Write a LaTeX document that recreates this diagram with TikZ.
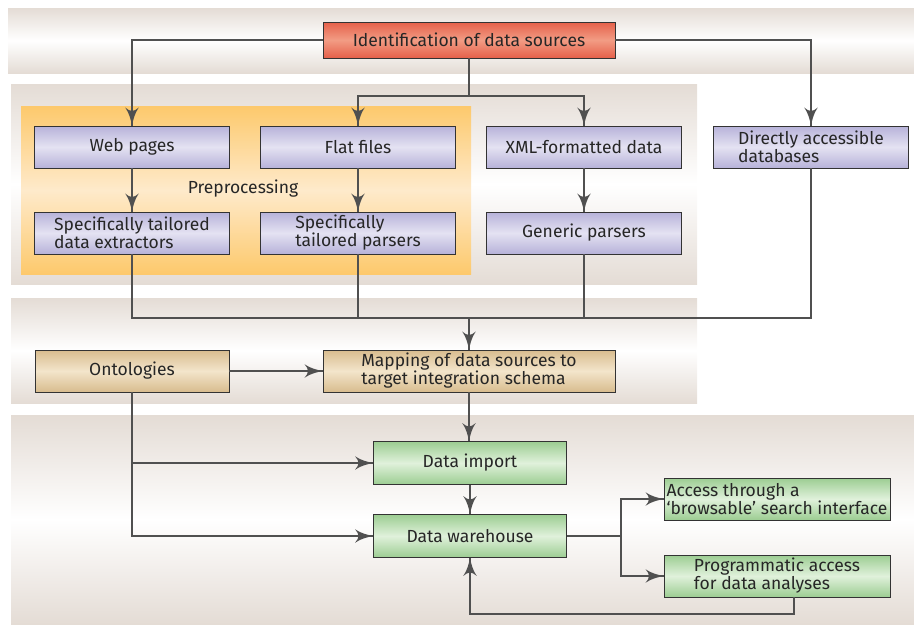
\documentclass[tikz,border=0pt]{standalone}
\usepackage{fontspec}
\setmainfont{Fira Sans}
\usetikzlibrary{arrows}
\usetikzlibrary{decorations.markings}
\definecolor{bandc}{HTML}{E4DCD5}
\definecolor{linec}{HTML}{505050}
\definecolor{redA}{HTML}{E5604A}
\definecolor{redB}{HTML}{F29C84}
\definecolor{purA}{HTML}{B7B2D9}
\definecolor{purB}{HTML}{E4E2F2}
\definecolor{tanA}{HTML}{D8BC8E}
\definecolor{tanB}{HTML}{F3E5CB}
\definecolor{grnA}{HTML}{9CCD92}
\definecolor{grnB}{HTML}{E0F1DB}
\definecolor{orA}{HTML}{FDC96C}
\definecolor{orB}{HTML}{FEEACB}
\tikzset{arr/.style = {decoration={markings,
                                   mark=at position 1 with {\arrow[scale=1.7]{latex'}}},
                       postaction={decorate}},
         flow/.style = {draw=linec, line width=2.6pt},
         box/.style = {draw=black!80, line width=0.9pt, inner sep=0pt, align=left,
                       font=\fontsize{17.5}{18}\selectfont, text=black!85},
         source/.style = {box, top color=purA, bottom color=purA, middle color=purB,
                          minimum width=195, minimum height=42},
         band/.style = {top color=bandc, bottom color=bandc, middle color=white}}

\begin{document}
\begin{tikzpicture}[x=1pt, y=-1pt]
    \useasboundingbox (0, 0) rectangle (914, 625);
    \fill [band] (8, 8) rectangle (914, 73);
    \fill [band] (11, 84) rectangle (697, 284);
    \fill [band] (11, 298) rectangle (697, 403);
    \fill [band] (11, 415) rectangle (914, 624);
    \fill [top color=orA, bottom color=orA, middle color=orB] (21, 106) rectangle (471, 274);

    \node [box, top color=redA, bottom color=redA, middle color=redB, minimum width=292, minimum height=36] (ident) at (469, 40) {Identification of data sources};

    \node [source] (web) at (132, 147) {Web pages};
    \node [source] (flat) at (358, 147) {Flat files};
    \node [source] (xml) at (584, 147) {XML-formatted data};
    \node [source] (direct) at (811, 147) {Directly accessible\\databases};
    \node [source] (extract) at (132, 233) {Specifically tailored\\data extractors};
    \node [source] (parse) at (358, 233) {Specifically\\tailored parsers};
    \node [source] (generic) at (584, 233) {Generic parsers};
    \node [font=\fontsize{17.5}{18}\selectfont, text=black!85] (prep) at (243, 189) {Preprocessing};

    \node [box, top color=tanA, bottom color=tanA, middle color=tanB, minimum width=194, minimum height=42] (onto) at (132, 371) {Ontologies};
    \node [box, top color=tanA, bottom color=tanA, middle color=tanB, minimum width=292, minimum height=42] (mapping) at (469, 371) {Mapping of data sources to\\target integration schema};

    \node [box, top color=grnA, bottom color=grnA, middle color=grnB, minimum width=193, minimum height=43] (import) at (470, 463) {Data import};
    \node [box, top color=grnA, bottom color=grnA, middle color=grnB, minimum width=193, minimum height=43] (warehouse) at (470, 536) {Data warehouse};
    \node [box, top color=grnA, bottom color=grnA, middle color=grnB, minimum width=226, minimum height=42] (browse) at (777, 499) {Access through a\\`browsable' search interface};
    \node [box, top color=grnA, bottom color=grnA, middle color=grnB, minimum width=226, minimum height=42] (program) at (777, 576) {Programmatic access\\for data analyses};

    \coordinate (split) at (469, 96);
    \coordinate (join) at (469, 318);
    \coordinate (fork) at (621, 536);
    \coordinate (back) at (470, 614);

    \draw [flow, arr] (ident.west) -| (web.north);
    \draw [flow, arr] (ident.east) -| (direct.north);
    \draw [flow] (ident.south) -- (split);
    \draw [flow, arr] (split) -| (flat.north);
    \draw [flow, arr] (split) -| (xml.north);
    \draw [flow, arr] (web) -- (extract);
    \draw [flow, arr] (flat) -- (parse);
    \draw [flow, arr] (xml) -- (generic);

    \draw [flow] (extract.south) |- (join) -| (direct.south);
    \draw [flow] (parse.south) -- (parse.south |- join);
    \draw [flow] (generic.south) -- (generic.south |- join);
    \draw [flow, arr] (join) -- (mapping.north);

    \draw [flow, arr] (onto) -- (mapping);
    \draw [flow, arr] (mapping.south) -- (mapping.south |- import.north);
    \draw [flow, arr] (onto.south) |- (import.west);
    \draw [flow, arr] (onto.south) |- (warehouse.west);
    \draw [flow, arr] (import) -- (warehouse);

    \draw [flow] (warehouse.east) -- (fork);
    \draw [flow, arr] (fork) |- (browse.west);
    \draw [flow, arr] (fork) |- (program.west);
    \draw [flow, arr] ([xshift=17]program.south) |- (back) -- (warehouse.south);
  \end{tikzpicture}
\end{document}
